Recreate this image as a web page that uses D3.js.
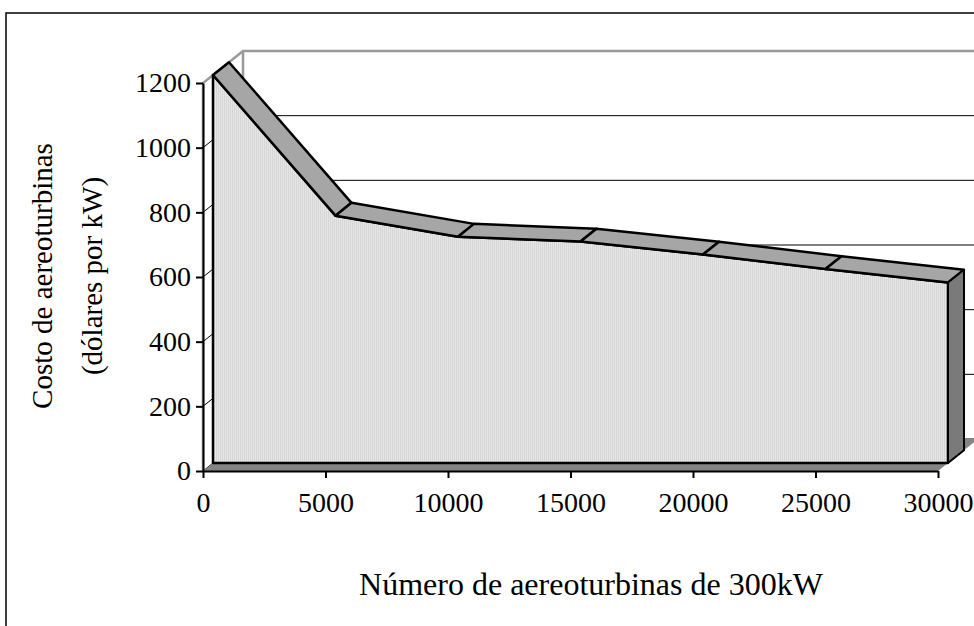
<!doctype html>
<html lang="es">
<head>
<meta charset="utf-8">
<title>Costo de aereoturbinas</title>
<script src="https://d3js.org/d3.v7.min.js"></script>
<style>
  body { margin: 0; background: #fff; }
  svg text { font-family: "Liberation Serif", "Times New Roman", serif; fill: #000; }
</style>
</head>
<body>
<div id="chart"></div>
<script>
// data
var turbines = [0, 5000, 10000, 15000, 20000, 25000, 30000];
var costs = [1200, 765, 700, 685, 645, 600, 558];
var yTicks = [0, 200, 400, 600, 800, 1000, 1200];
var xTicks = [0, 5000, 10000, 15000, 20000, 25000, 30000];

var width = 974, height = 626;

var svg = d3.select("#chart").append("svg")
    .attr("width", width)
    .attr("height", height);

// stripes on the front face
var pat = svg.append("defs").append("pattern")
    .attr("id", "stripes")
    .attr("patternUnits", "userSpaceOnUse")
    .attr("width", 2).attr("height", 4);
pat.append("rect").attr("width", 2).attr("height", 4).attr("fill", "#e6e6e6");
pat.append("rect").attr("width", 1).attr("height", 4).attr("fill", "#d6d6d6");

var x = d3.scaleLinear().domain([0, 30000]).range([203, 938]);
var y = d3.scaleLinear().domain([0, 1200]).range([471, 83]);

// 3d depth offset of the back wall
var dx = 40, dy = -32;
var f0 = 0.25, f1 = 0.65;   // front / back depth of the series

function proj(xv, yv, f) {
    return [x(xv) + f * dx, y(yv) + f * dy];
}

// outer border
svg.append("rect")
    .attr("x", 6).attr("y", 13)
    .attr("width", 1000).attr("height", 700)
    .attr("fill", "none")
    .attr("stroke", "#000")
    .attr("stroke-width", 1.5);

var xMax = 30000, yMax = 1200;

// gridlines on back and left walls
yTicks.filter(function (v) { return v < yMax; }).forEach(function (v) {
    var a = proj(0, v, 1), b = proj(xMax, v, 1), c = proj(0, v, 0);
    svg.append("line")
        .attr("x1", a[0]).attr("y1", a[1]).attr("x2", b[0]).attr("y2", b[1])
        .attr("stroke", "#000").attr("stroke-width", 1);
    svg.append("line")
        .attr("x1", c[0]).attr("y1", c[1]).attr("x2", a[0]).attr("y2", a[1])
        .attr("stroke", "#000").attr("stroke-width", 1);
});

// wall edges (grey)
var wallEdge = [proj(0, 0, 0), proj(0, yMax, 0), proj(0, yMax, 1), proj(xMax, yMax, 1)];
svg.append("path")
    .attr("d", d3.line()(wallEdge))
    .attr("fill", "none")
    .attr("stroke", "#999")
    .attr("stroke-width", 2.5);
svg.append("line")
    .attr("x1", proj(0, 0, 1)[0]).attr("y1", proj(0, 0, 1)[1])
    .attr("x2", proj(0, yMax, 1)[0]).attr("y2", proj(0, yMax, 1)[1])
    .attr("stroke", "#999").attr("stroke-width", 2.5);

// floor
svg.append("path")
    .attr("d", d3.line()([proj(0, 0, 0), proj(xMax, 0, 0), proj(xMax, 0, 1), proj(0, 0, 1)]) + "Z")
    .attr("fill", "#858585")
    .attr("stroke", "none");

var data = turbines.map(function (t, i) { return { t: t, c: costs[i] }; });
var last = data[data.length - 1];

// front face of the area
var front = data.map(function (d) { return proj(d.t, d.c, f0); });
front.push(proj(last.t, 0, f0));
front.push(proj(0, 0, f0));
svg.append("path")
    .attr("d", d3.line()(front) + "Z")
    .attr("fill", "url(#stripes)")
    .attr("stroke", "#000")
    .attr("stroke-width", 2.5)
    .attr("stroke-linejoin", "round");

// top band
for (var i = 0; i < data.length - 1; i++) {
    var p = data[i], q = data[i + 1];
    svg.append("path")
        .attr("d", d3.line()([proj(p.t, p.c, f0), proj(q.t, q.c, f0), proj(q.t, q.c, f1), proj(p.t, p.c, f1)]) + "Z")
        .attr("fill", "#a6a6a6")
        .attr("stroke", "#000")
        .attr("stroke-width", 2.5)
        .attr("stroke-linejoin", "round");
}

// right side face
svg.append("path")
    .attr("d", d3.line()([proj(last.t, last.c, f0), proj(last.t, last.c, f1), proj(last.t, 0, f1), proj(last.t, 0, f0)]) + "Z")
    .attr("fill", "#7a7a7a")
    .attr("stroke", "#000")
    .attr("stroke-width", 2)
    .attr("stroke-linejoin", "round");

// axes
var yAxis = svg.append("g")
    .attr("transform", "translate(" + x(0) + ",0)")
    .call(d3.axisLeft(y).tickValues(yTicks).tickSize(7).tickSizeOuter(0).tickPadding(5)
        .tickFormat(d3.format("d")));
var xAxis = svg.append("g")
    .attr("transform", "translate(0," + y(0) + ")")
    .call(d3.axisBottom(x).tickValues(xTicks).tickSize(7).tickSizeOuter(0).tickPadding(14)
        .tickFormat(d3.format("d")));

[yAxis, xAxis].forEach(function (g) {
    g.selectAll("path, line").attr("stroke", "#000").attr("stroke-width", 2);
    g.selectAll("text")
        .style("font-family", "'Liberation Serif', 'Times New Roman', serif")
        .style("font-size", "28px")
        .attr("fill", "#000");
});

// axis titles
svg.append("text")
    .attr("x", 591).attr("y", 595)
    .attr("text-anchor", "middle")
    .style("font-size", "32px")
    .text("Número de aereoturbinas de 300kW");

svg.append("text")
    .attr("transform", "translate(42,276) rotate(-90)")
    .attr("text-anchor", "middle")
    .attr("dy", "0.35em")
    .style("font-size", "29px")
    .text("Costo de aereoturbinas");
svg.append("text")
    .attr("transform", "translate(92,276) rotate(-90)")
    .attr("text-anchor", "middle")
    .attr("dy", "0.35em")
    .style("font-size", "29px")
    .text("(dólares por kW)");
</script>
</body>
</html>
